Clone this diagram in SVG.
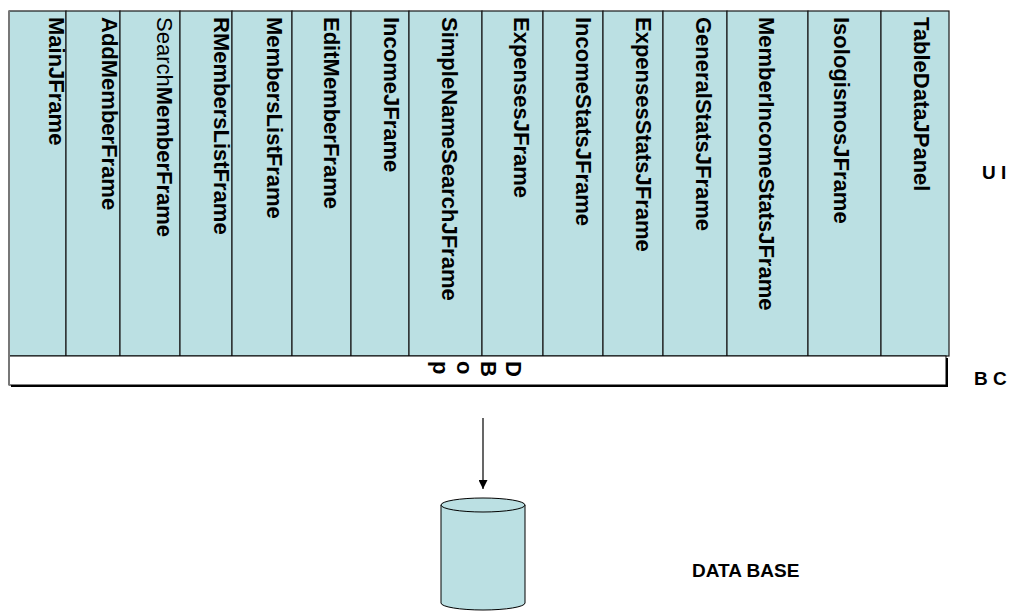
<svg xmlns="http://www.w3.org/2000/svg" width="1013" height="611" viewBox="0 0 1013 611">
<style>
.col{fill:#BBE0E3;stroke:#1a1a1a;stroke-width:1.2}
.lbl{font-family:"Liberation Sans",Arial,sans-serif;font-weight:bold;font-size:22px;fill:#000}
.reg{font-weight:normal}
.side{font-family:"Liberation Sans",Arial,sans-serif;font-weight:bold;font-size:19px;fill:#000}
</style>
<defs>
<marker id="ah" markerWidth="9" markerHeight="9" refX="9" refY="4.5" orient="auto" markerUnits="userSpaceOnUse">
<path d="M0,0 L9,4.5 L0,9 Z" fill="#000"/>
</marker>
</defs>
<rect x="0" y="0" width="1013" height="611" fill="#fff"/>
<g id="ui-layer">
<g id="MainJFrame"><rect class="col" x="9" y="11" width="57" height="345"/><text class="lbl" transform="translate(49,17) rotate(90)">MainJFrame</text></g>
<g id="AddMemberFrame"><rect class="col" x="66" y="11" width="54" height="345"/><text class="lbl" transform="translate(102,17) rotate(90)">AddMemberFrame</text></g>
<g id="SearchMemberFrame"><rect class="col" x="120" y="11" width="60" height="345"/><text class="lbl" transform="translate(157,17) rotate(90)"><tspan class="reg">Search</tspan>MemberFrame</text></g>
<g id="RMembersListFrame"><rect class="col" x="180" y="11" width="52" height="345"/><text class="lbl" transform="translate(214,17) rotate(90)">RMembersListFrame</text></g>
<g id="MembersListFrame"><rect class="col" x="232" y="11" width="60" height="345"/><text class="lbl" transform="translate(267,17) rotate(90)">MembersListFrame</text></g>
<g id="EditMemberFrame"><rect class="col" x="292" y="11" width="59" height="345"/><text class="lbl" transform="translate(324,17) rotate(90)">EditMemberFrame</text></g>
<g id="IncomeJFrame"><rect class="col" x="351" y="11" width="58" height="345"/><text class="lbl" transform="translate(384,17) rotate(90)">IncomeJFrame</text></g>
<g id="SimpleNameSearchJFrame"><rect class="col" x="409" y="11" width="73" height="345"/><text class="lbl" transform="translate(442,17) rotate(90)">SimpleNameSearchJFrame</text></g>
<g id="ExpensesJFrame"><rect class="col" x="482" y="11" width="61" height="345"/><text class="lbl" transform="translate(514,17) rotate(90)">ExpensesJFrame</text></g>
<g id="IncomeStatsJFrame"><rect class="col" x="543" y="11" width="60" height="345"/><text class="lbl" transform="translate(576,17) rotate(90)">IncomeStatsJFrame</text></g>
<g id="ExpensesStatsJFrame"><rect class="col" x="603" y="11" width="60" height="345"/><text class="lbl" transform="translate(636,17) rotate(90)">ExpensesStatsJFrame</text></g>
<g id="GeneralStatsJFrame"><rect class="col" x="663" y="11" width="64" height="345"/><text class="lbl" transform="translate(696,17) rotate(90)">GeneralStatsJFrame</text></g>
<g id="MemberIncomeStatsJFrame"><rect class="col" x="727" y="11" width="81" height="345"/><text class="lbl" transform="translate(759,17) rotate(90)">MemberIncomeStatsJFrame</text></g>
<g id="IsologismosJFrame"><rect class="col" x="808" y="11" width="73" height="345"/><text class="lbl" transform="translate(834,17) rotate(90)">IsologismosJFrame</text></g>
<g id="TableDataJPanel"><rect class="col" x="881" y="11" width="68" height="345"/><text class="lbl" transform="translate(914,17) rotate(90)">TableDataJPanel</text></g>
</g>
<g id="bc-layer">
<rect x="11" y="358" width="937" height="29" fill="#000"/>
<rect x="9" y="356" width="937" height="29" fill="#fff" stroke="#000" stroke-width="1"/>
<line x1="9" y1="11" x2="9" y2="385" stroke="#777" stroke-width="2"/>
<text class="lbl" transform="translate(506,361) rotate(90)">D</text>
<text class="lbl" transform="translate(481,361) rotate(90)">B</text>
<text class="lbl" transform="translate(457,361) rotate(90)">o</text>
<text class="lbl" transform="translate(433,361) rotate(90)">p</text>
</g>
<g id="labels">
<text class="side" x="982" y="179">U I</text>
<text class="side" x="974" y="385">B C</text>
<text class="side" x="692" y="577" font-size="18">DATA BASE</text>
</g>
<g id="database">
<path d="M441,505 L441,603 A42,7 0 0 0 525,603 L525,505" fill="#BBE0E3" stroke="#000" stroke-width="1"/>
<ellipse cx="483" cy="505" rx="42" ry="7" fill="#BBE0E3" stroke="#000" stroke-width="1"/>
</g>
<g id="connectors">
<line x1="483" y1="418" x2="483" y2="489" stroke="#000" stroke-width="1.2" marker-end="url(#ah)"/>
</g>
</svg>
